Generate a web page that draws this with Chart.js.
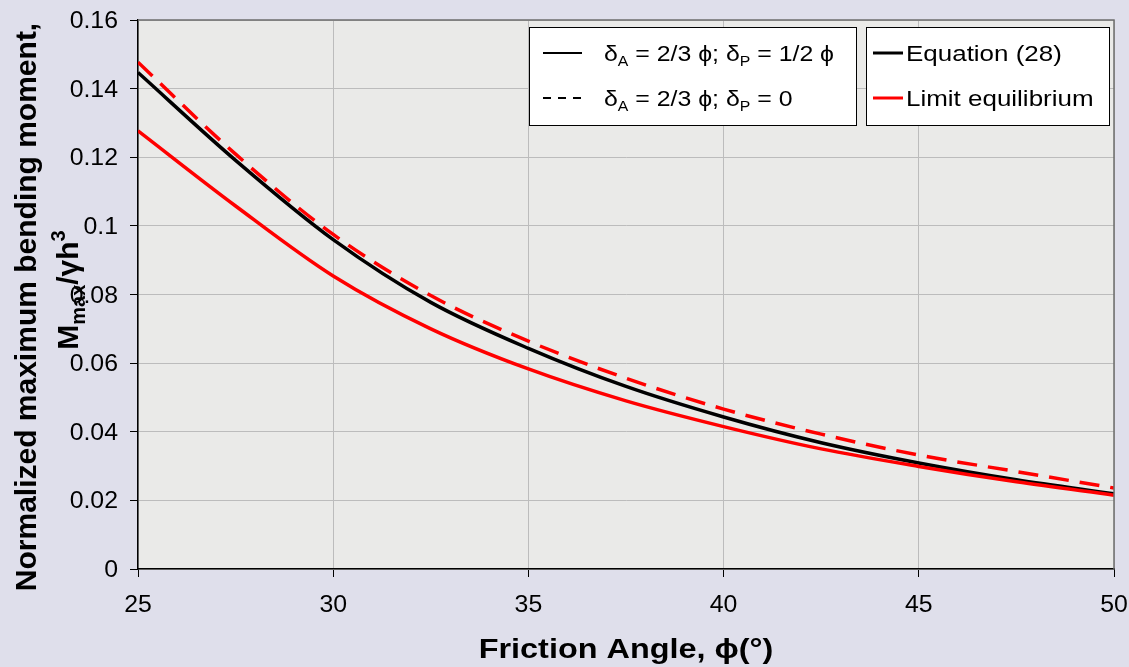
<!DOCTYPE html>
<html>
<head>
<meta charset="utf-8">
<title>Normalized maximum bending moment</title>
<script src="https://cdn.jsdelivr.net/npm/chart.js@4/dist/chart.umd.min.js"></script>
<style>
  html, body { margin: 0; padding: 0; background: #dfdfeb; }
  #wrap { width: 1129px; height: 667px; }
</style>
</head>
<body>
<div id="wrap"><canvas id="chart" width="1129" height="667"></canvas></div>
<script>
// Friction angle (deg) and normalized moment Mmax / (gamma h^3)
const phi = [25, 27.5, 30, 32.5, 35, 37.5, 40, 42.5, 45, 47.5, 50];
const eqHalf = [0.1447, 0.1191, 0.0960, 0.0777, 0.0643, 0.0532, 0.0443, 0.0368, 0.0309, 0.0260, 0.0219];
const leHalf = [0.1277, 0.1058, 0.0854, 0.0700, 0.0583, 0.0490, 0.0415, 0.0350, 0.0299, 0.0254, 0.0215];
const leZero = [0.1477, 0.1209, 0.0975, 0.0797, 0.0664, 0.0556, 0.0466, 0.0393, 0.0332, 0.0284, 0.0236];

const xTicks = [25, 30, 35, 40, 45, 50];
const yTicks = [0, 0.02, 0.04, 0.06, 0.08, 0.1, 0.12, 0.14, 0.16];

const FONT = '"Liberation Sans", Arial, sans-serif';

const pts = ys => phi.map((x, i) => ({ x, y: ys[i] }));

// text run with sub / superscripts: parts = [[text, 'sub'|'sup'|null], ...]
function drawRich(ctx, parts, x, y, size, weight, align, sx) {
    ctx.save();
    ctx.translate(x, y);
    ctx.scale(sx, 1);
    const fontFor = p => `${weight} ${p[1] ? Math.round(size * 0.65) : size}px ${FONT}`;
    let w = 0;
    parts.forEach(p => { ctx.font = fontFor(p); w += ctx.measureText(p[0]).width; });
    let cx = align === 'center' ? -w / 2 : align === 'right' ? -w : 0;
    ctx.textAlign = 'left';
    ctx.textBaseline = 'alphabetic';
    ctx.fillStyle = '#000';
    parts.forEach(p => {
        ctx.font = fontFor(p);
        const dy = p[1] === 'sub' ? size * 0.22 : p[1] === 'sup' ? -size * 0.42 : 0;
        ctx.fillText(p[0], cx, dy);
        cx += ctx.measureText(p[0]).width;
    });
    ctx.restore();
}

function sampleLine(ctx, x1, x2, y, color, width, dash) {
    ctx.save();
    ctx.strokeStyle = color;
    ctx.lineWidth = width;
    ctx.setLineDash(dash || []);
    ctx.beginPath();
    ctx.moveTo(x1, y);
    ctx.lineTo(x2, y);
    ctx.stroke();
    ctx.restore();
}

const plotDecor = {
    id: 'plotDecor',
    beforeDraw(chart) {
        const { ctx, chartArea: a } = chart;
        ctx.save();
        ctx.fillStyle = '#eaeae8';
        ctx.fillRect(a.left, a.top, a.right - a.left, a.bottom - a.top);
        ctx.restore();
    },
    afterDraw(chart) {
        const { ctx, chartArea: a, scales } = chart;

        // top and right frame
        ctx.save();
        ctx.strokeStyle = '#6e6e6e';
        ctx.lineWidth = 1.5;
        ctx.beginPath();
        ctx.moveTo(a.left, a.top);
        ctx.lineTo(a.right, a.top);
        ctx.lineTo(a.right, a.bottom);
        ctx.stroke();
        ctx.restore();

        // tick labels
        yTicks.forEach(v => {
            const py = scales.y.getPixelForValue(v);
            drawRich(ctx, [[String(v), null]], 118, py + 8, 23, 'normal', 'right', 1.08);
        });
        xTicks.forEach(v => {
            const px = scales.x.getPixelForValue(v);
            drawRich(ctx, [[String(v), null]], px, 612, 23, 'normal', 'center', 1.08);
        });

        // axis titles
        drawRich(ctx, [['Friction Angle, \u03D5(\u00B0)', null]], 626, 658, 27, 'bold', 'center', 1.2);

        ctx.save();
        ctx.translate(36, 307);
        ctx.rotate(-Math.PI / 2);
        drawRich(ctx, [['Normalized maximum bending moment,', null]], 0, 0, 30, 'bold', 'center', 1);
        ctx.restore();

        ctx.save();
        ctx.translate(78, 290);
        ctx.rotate(-Math.PI / 2);
        drawRich(ctx, [['M', null], ['max', 'sub'], ['/\u03B3h', null], ['3', 'sup']], 0, 0, 30, 'bold', 'center', 1);
        ctx.restore();

        // legend: line style key
        ctx.save();
        ctx.fillStyle = '#fff';
        ctx.strokeStyle = '#000';
        ctx.lineWidth = 1;
        ctx.fillRect(529, 27, 327, 98);
        ctx.strokeRect(529.5, 27.5, 327, 98);
        ctx.fillRect(866, 27, 243, 98);
        ctx.strokeRect(866.5, 27.5, 243, 98);
        ctx.restore();

        sampleLine(ctx, 543, 582, 53, '#000', 2);
        sampleLine(ctx, 543, 582, 98, '#000', 2, [8, 7]);
        drawRich(ctx, [['\u03B4', null], ['A', 'sub'], [' = 2/3 \u03D5; \u03B4', null], ['P', 'sub'], [' = 1/2 \u03D5', null]],
            604, 61, 22, 'normal', 'left', 1.13);
        drawRich(ctx, [['\u03B4', null], ['A', 'sub'], [' = 2/3 \u03D5; \u03B4', null], ['P', 'sub'], [' = 0', null]],
            604, 106, 22, 'normal', 'left', 1.13);

        // legend: method key
        sampleLine(ctx, 873, 903, 53, '#000', 3);
        sampleLine(ctx, 873, 903, 98, '#ff0000', 3);
        drawRich(ctx, [['Equation (28)', null]], 906, 61, 22, 'normal', 'left', 1.18);
        drawRich(ctx, [['Limit equilibrium', null]], 906, 106, 22, 'normal', 'left', 1.18);
    }
};

const ctx = document.getElementById('chart').getContext('2d');
new Chart(ctx, {
    type: 'line',
    data: {
        datasets: [
            {
                label: 'Limit equilibrium, \u03B4P = 0',
                data: pts(leZero),
                borderColor: '#ff0000',
                borderWidth: 3.5,
                borderDash: [20, 11],
                order: 0
            },
            {
                label: 'Limit equilibrium, \u03B4P = 1/2 \u03D5',
                data: pts(leHalf),
                borderColor: '#ff0000',
                borderWidth: 3.5,
                order: 1
            },
            {
                label: 'Equation (28), \u03B4P = 1/2 \u03D5',
                data: pts(eqHalf),
                borderColor: '#000000',
                borderWidth: 3.5,
                order: 2
            }
        ]
    },
    options: {
        responsive: false,
        animation: false,
        devicePixelRatio: 1,
        layout: { padding: { left: 0, top: 20, right: 15, bottom: 0 } },
        elements: {
            point: { radius: 0, hoverRadius: 0 },
            line: { fill: false, cubicInterpolationMode: 'monotone' }
        },
        plugins: {
            legend: { display: false },
            tooltip: { enabled: false }
        },
        scales: {
            x: {
                type: 'linear',
                min: 25,
                max: 50,
                afterFit: s => { s.height = 98; },
                afterBuildTicks: s => { s.ticks = xTicks.map(v => ({ value: v })); },
                ticks: { display: false },
                grid: { color: '#bcbcbc', lineWidth: 1, tickLength: 8, tickColor: '#000' },
                border: { color: '#000', width: 1.5 }
            },
            y: {
                min: 0,
                max: 0.16,
                afterFit: s => { s.width = 138; },
                afterBuildTicks: s => { s.ticks = yTicks.map(v => ({ value: v })); },
                ticks: { display: false },
                grid: { color: '#bcbcbc', lineWidth: 1, tickLength: 8, tickColor: '#000' },
                border: { color: '#000', width: 1.5 }
            }
        }
    },
    plugins: [plotDecor]
});
</script>
</body>
</html>
